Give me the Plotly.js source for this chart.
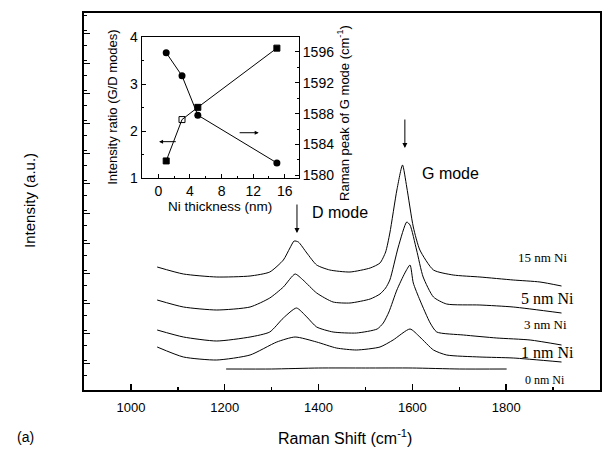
<!DOCTYPE html>
<html>
<head>
<meta charset="utf-8">
<script src="https://cdn.plot.ly/plotly-3.0.1.min.js"></script>
<style>html,body{margin:0;padding:0;background:#fff;}#chart{width:610px;height:455px;}</style>
</head>
<body>
<div id="chart"></div>
<script>
// Main spectra (Raman shift in cm^-1, intensity in arbitrary units)
const wn15 = [1056,1112,1183,1254,1296,1325,1339,1348,1357,1375,1396,1424,1467,1510,1531,1543,1552,1567,1579,1588,1602,1616,1645,1687,1744,1815,1872,1918];
const int15 = [123,116,113,114,118,130,142,149,148,137,125,120,118,122,127,138,157,200,225,203,163,140,120,115,113,110,108,104];
const wn5 = [1056,1112,1183,1254,1296,1325,1350,1367,1396,1431,1467,1510,1531,1543,1552,1570,1588,1595,1609,1623,1645,1673,1744,1815,1918];
const int5 = [90,83,80,83,92,103,116,110,97,88,87,91,96,102,110,143,168,165,140,113,93,86,85,83,77];
const wn3 = [1056,1112,1183,1254,1296,1325,1353,1375,1396,1431,1481,1525,1538,1550,1567,1584,1595,1602,1616,1638,1652,1709,1780,1851,1918];
const int3 = [60,53,49,53,58,72,82,73,63,58,57,61,67,78,100,117,125,107,90,67,58,55,52,50,45];
const wn1 = [1056,1112,1183,1254,1311,1350,1396,1438,1481,1531,1559,1595,1616,1645,1673,1744,1815,1918];
const int1 = [43,33,30,35,48,53,48,42,40,43,50,61,53,40,35,33,32,28];
const wn0 = [1203,1300,1400,1500,1600,1700,1801];
const int0 = [21,21,22,22,22,21,21];

const seriesLabels = ["15 nm Ni","5 nm Ni","3 nm Ni","1 nm Ni","0 nm Ni"];
const labelX = [1878,1889,1883,1889,1883];
const labelY = [133,92,66,38,10];
const labelSize = [13,16,13,16,12];

// Inset data
const niThickness = [1,3,5,15];
const gdRatio = [1.37,2.25,2.51,3.77];
const gPeak = [1595.9,1592.9,1587.8,1581.6];

const black = '#000';
const spec = (x,y) => ({x:x,y:y,xaxis:'x',yaxis:'y',type:'scatter',mode:'lines',line:{color:black,width:1,shape:'spline',smoothing:0.6},hoverinfo:'skip'});

const data = [
  spec(wn15,int15), spec(wn5,int5), spec(wn3,int3), spec(wn1,int1), spec(wn0,int0),
  {x:niThickness,y:gdRatio,xaxis:'x2',yaxis:'y2',type:'scatter',mode:'lines+markers',
   line:{color:black,width:1},marker:{symbol:['square','square-open','square','square'],size:6,color:black,line:{color:black,width:1}}},
  {x:niThickness,y:gPeak,xaxis:'x2',yaxis:'y3',type:'scatter',mode:'lines+markers',
   line:{color:black,width:1},marker:{symbol:'circle',size:7,color:black}}
];

const sans = 'Liberation Sans, Arial, sans-serif';
const serif = 'Liberation Serif, Times New Roman, serif';

const annotations = [];
seriesLabels.forEach((t,i)=>annotations.push({x:labelX[i],y:labelY[i],xref:'x',yref:'y',xanchor:'center',yanchor:'middle',text:t,showarrow:false,font:{family:serif,size:labelSize[i],color:black}}));
const P = (x,y,text,size,angle) => ({x:x,y:y,xref:'paper',yref:'paper',xanchor:'center',yanchor:'middle',text:text,textangle:angle||0,showarrow:false,font:{family:sans,size:size,color:black}});
annotations.push(
  {x:1446,y:178,xref:'x',yref:'y',xanchor:'center',yanchor:'middle',text:'D mode',showarrow:false,font:{family:sans,size:16,color:black}},
  {x:1682,y:217,xref:'x',yref:'y',xanchor:'center',yanchor:'middle',text:'G mode',showarrow:false,font:{family:sans,size:16,color:black}},
  {x:1354,y:157,ax:1354,ay:187,xref:'x',yref:'y',axref:'x',ayref:'y',text:'',showarrow:true,arrowhead:2,arrowsize:1,arrowwidth:1,arrowcolor:black},
  {x:1584,y:242,ax:1584,ay:272,xref:'x',yref:'y',axref:'x',ayref:'y',text:'',showarrow:true,arrowhead:2,arrowsize:1,arrowwidth:1,arrowcolor:black},
  {x:0.1,y:1.78,ax:2.4,ay:1.78,xref:'x2',yref:'y2',axref:'x2',ayref:'y2',text:'',showarrow:true,arrowhead:2,arrowsize:0.8,arrowwidth:1,arrowcolor:black},
  {x:12.7,y:1.97,ax:10.1,ay:1.97,xref:'x2',yref:'y2',axref:'x2',ayref:'y2',text:'',showarrow:true,arrowhead:2,arrowsize:0.8,arrowwidth:1,arrowcolor:black},
  P(0.5058,-0.1247,'Raman Shift (cm<sup>-1</sup>)',16),
  P(-0.1047,0.504,'Intensity (a.u.)',15,-90),
  P(-0.114,-0.1247,'(a)',14),
  P(0.2636,0.486,'Ni thickness (nm)',13.5),
  P(0.056,0.751,'Intensity ratio (G/D modes)',13,-90),
  P(0.502,0.735,'Raman peak of G mode (cm<sup>-1</sup>)',13,-90)
);

const layout = {
  width:610,height:455,
  margin:{l:84,r:10,t:13,b:65},
  paper_bgcolor:'#fff',plot_bgcolor:'rgba(0,0,0,0)',
  showlegend:false,
  font:{family:sans,color:black},
  xaxis:{range:[900,2000],domain:[0,1],anchor:'y',showgrid:false,zeroline:false,showline:true,linecolor:black,linewidth:2,mirror:true,
    ticks:'inside',ticklen:6,tickwidth:1.5,tickcolor:black,tickvals:[1000,1200,1400,1600,1800,2000],ticklabelstandoff:4,
    minor:{ticks:'inside',ticklen:3,tickwidth:1.5,tickcolor:black,tickvals:[900,1100,1300,1500,1700,1900]},
    tickfont:{family:sans,size:13,color:black}},
  yaxis:{range:[0,377],domain:[0,1],anchor:'x',showgrid:false,zeroline:false,showline:true,linecolor:black,linewidth:2,mirror:true,
    ticks:'inside',ticklen:6,tickwidth:1,tickcolor:black,tick0:27,dtick:30,showticklabels:false,
    minor:{ticks:'inside',ticklen:3,tickwidth:1,tickcolor:black,dtick:15}},
  xaxis2:{range:[-2.1,17.8],domain:[0.1118,0.4167],anchor:'y2',showgrid:false,zeroline:false,showline:true,linecolor:black,linewidth:1,mirror:true,
    ticks:'inside',ticklen:4,tickcolor:black,tickvals:[0,4,8,12,16],ticklabelstandoff:0,
    minor:{ticks:'inside',ticklen:2,tickcolor:black,tickvals:[2,6,10,14]},
    tickfont:{family:sans,size:14,color:black}},
  yaxis2:{range:[1,4],domain:[0.5615,0.9355],anchor:'x2',showgrid:false,zeroline:false,showline:true,linecolor:black,linewidth:1,
    ticks:'inside',ticklen:4,tickcolor:black,tickvals:[1,2,3,4],
    minor:{ticks:'inside',ticklen:2,tickcolor:black,tickvals:[1.5,2.5,3.5]},
    tickfont:{family:sans,size:14,color:black}},
  yaxis3:{range:[1579.6,1597.9],overlaying:'y2',anchor:'x2',side:'right',showgrid:false,zeroline:false,showline:true,linecolor:black,linewidth:1,
    ticks:'inside',ticklen:4,tickcolor:black,tickvals:[1580,1584,1588,1592,1596],
    minor:{ticks:'inside',ticklen:2,tickcolor:black,tickvals:[1582,1586,1590,1594]},
    tickfont:{family:sans,size:14,color:black}},
  annotations:annotations
};

Plotly.newPlot('chart',data,layout,{staticPlot:true,displayModeBar:false});
</script>
</body>
</html>
